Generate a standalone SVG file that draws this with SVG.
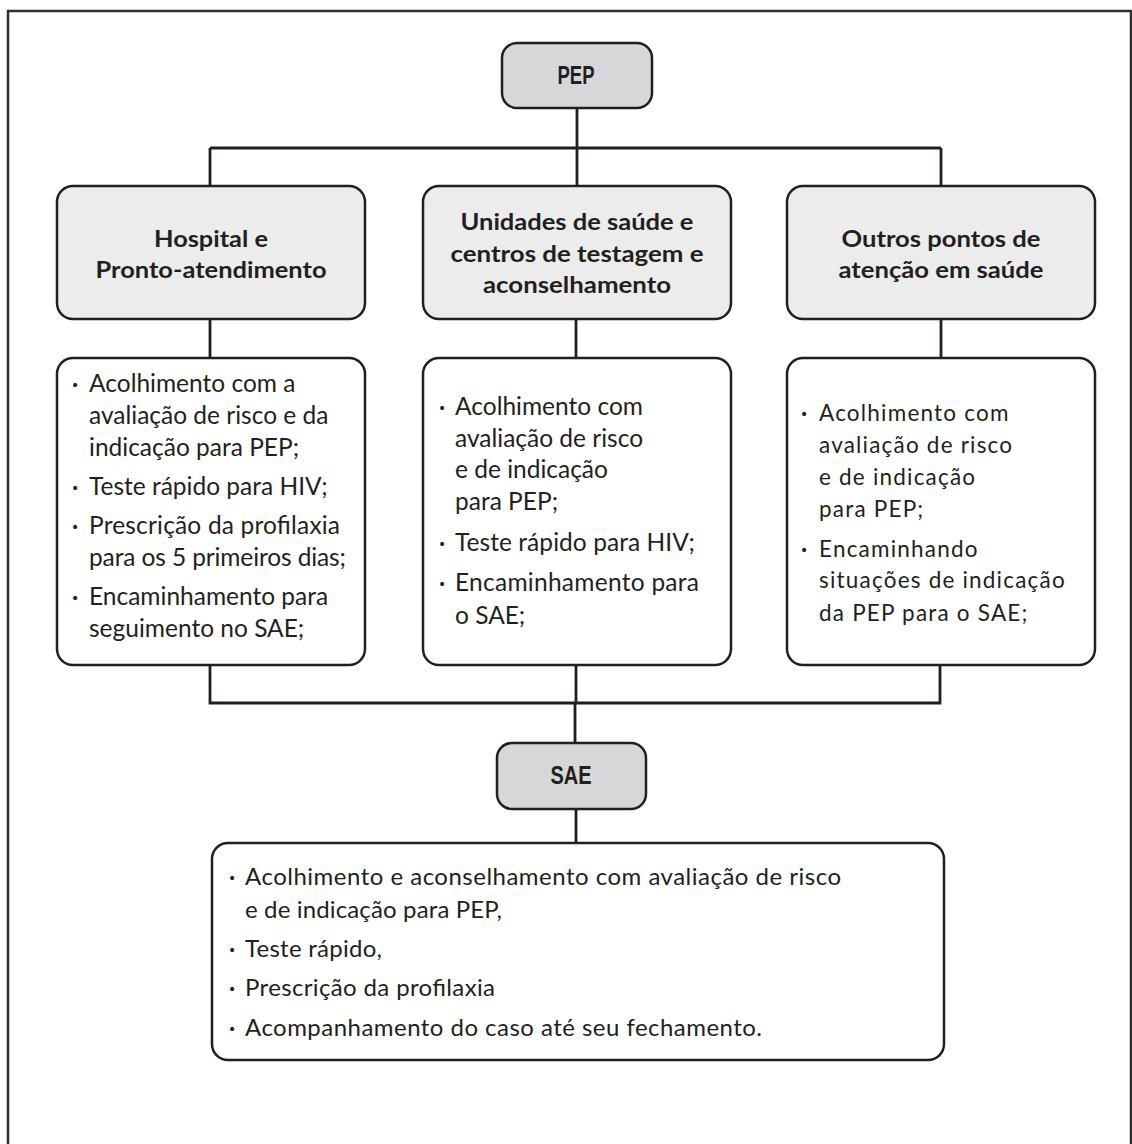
<svg xmlns="http://www.w3.org/2000/svg" width="1132" height="1144" viewBox="0 0 1132 1144">
<style>
.frame{fill:none;stroke:#2f2f2f;stroke-width:2.5}
.hdr{fill:#ececec;stroke:#231f20;stroke-width:2.5}
.key{fill:#d6d7d9;stroke:#231f20;stroke-width:2.5}
.body{fill:#ffffff;stroke:#231f20;stroke-width:2.5}
.con{fill:none;stroke:#231f20;stroke-width:2.8}
.t{font-family:Lato,"Open Sans","DejaVu Sans",sans-serif;font-size:24.5px;fill:#231f20}
.t3{font-family:Lato,"Open Sans","DejaVu Sans",sans-serif;font-size:22.5px;letter-spacing:1.2px;fill:#231f20}
.bt{font-family:Lato,"Open Sans","DejaVu Sans",sans-serif;font-size:24px;fill:#231f20}
.h{font-family:Lato,"Open Sans","DejaVu Sans",sans-serif;font-size:23px;font-weight:bold;fill:#231f20;text-anchor:middle}
.k{font-family:"Liberation Sans","DejaVu Sans",sans-serif;font-size:25px;font-weight:bold;fill:#231f20;text-anchor:middle}
.bu{font-family:"DejaVu Sans",sans-serif;font-size:14px;fill:#231f20}
</style>
<rect width="1132" height="1144" fill="#ffffff"/>
<path class="frame" d="M8,1150 V11 H1131 V1150"/>
<g id="connectors">
<path class="con" d="M577,108 V148 M210,148 H941 M210,148 V186 M577,148 V186 M941,148 V186"/>
<path class="con" d="M210,319 V358 M576,319 V358 M941,319 V358"/>
<path class="con" d="M210,665 V703 H940 V665 M576,665 V703 M575,703 V743 M576,809 V843"/>
</g>
<g id="pep">
<rect class="key" x="502" y="43" width="150" height="65" rx="15"/>
<text class="k" x="576" y="84" textLength="37" lengthAdjust="spacingAndGlyphs">PEP</text>
</g>
<g id="hospital">
<rect class="hdr" x="57" y="186" width="308" height="133" rx="16"/>
<text class="h" x="211" y="247" textLength="114" lengthAdjust="spacingAndGlyphs">Hospital e</text>
<text class="h" x="211" y="278" textLength="231" lengthAdjust="spacingAndGlyphs">Pronto-atendimento</text>
</g>
<g id="unidades">
<rect class="hdr" x="423" y="186" width="308" height="133" rx="16"/>
<text class="h" x="577" y="230" textLength="233" lengthAdjust="spacingAndGlyphs">Unidades de saúde e</text>
<text class="h" x="577" y="262" textLength="253" lengthAdjust="spacingAndGlyphs">centros de testagem e</text>
<text class="h" x="577" y="293" textLength="188" lengthAdjust="spacingAndGlyphs">aconselhamento</text>
</g>
<g id="outros">
<rect class="hdr" x="787" y="186" width="308" height="133" rx="16"/>
<text class="h" x="941" y="247" textLength="199" lengthAdjust="spacingAndGlyphs">Outros pontos de</text>
<text class="h" x="941" y="278" textLength="205" lengthAdjust="spacingAndGlyphs">atenção em saúde</text>
</g>
<g id="hospital-acoes">
<rect class="body" x="57" y="358" width="308" height="307" rx="16"/>
<text class="bu" x="71" y="390">•</text>
<text class="bu" x="71" y="493">•</text>
<text class="bu" x="71" y="532">•</text>
<text class="bu" x="71" y="603">•</text>
<text class="t" x="89" y="392">Acolhimento com a</text>
<text class="t" x="89" y="424">avaliação de risco e da</text>
<text class="t" x="89" y="456">indicação para PEP;</text>
<text class="t" x="89" y="495">Teste rápido para HIV;</text>
<text class="t" x="89" y="534" textLength="251">Prescrição da profilaxia</text>
<text class="t" x="89" y="566" textLength="257">para os 5 primeiros dias;</text>
<text class="t" x="89" y="605">Encaminhamento para</text>
<text class="t" x="89" y="637">seguimento no SAE;</text>
</g>
<g id="unidades-acoes">
<rect class="body" x="423" y="358" width="308" height="307" rx="16"/>
<text class="bu" x="438" y="413">•</text>
<text class="bu" x="438" y="549">•</text>
<text class="bu" x="438" y="589">•</text>
<text class="t" x="455" y="415">Acolhimento com</text>
<text class="t" x="455" y="447">avaliação de risco</text>
<text class="t" x="455" y="478">e de indicação</text>
<text class="t" x="455" y="510">para PEP;</text>
<text class="t" x="455" y="551" textLength="240">Teste rápido para HIV;</text>
<text class="t" x="455" y="591" textLength="244">Encaminhamento para</text>
<text class="t" x="455" y="624">o SAE;</text>
</g>
<g id="outros-acoes">
<rect class="body" x="787" y="358" width="308" height="307" rx="16"/>
<text class="bu" x="800" y="419">•</text>
<text class="bu" x="800" y="555">•</text>
<text class="t3" x="819" y="421">Acolhimento com</text>
<text class="t3" x="819" y="453">avaliação de risco</text>
<text class="t3" x="819" y="485">e de indicação</text>
<text class="t3" x="819" y="517">para PEP;</text>
<text class="t3" x="819" y="557">Encaminhando</text>
<text class="t3" x="819" y="588">situações de indicação</text>
<text class="t3" x="819" y="621">da PEP para o SAE;</text>
</g>
<g id="sae">
<rect class="key" x="497" y="743" width="149" height="66" rx="15"/>
<text class="k" x="571" y="784" textLength="41" lengthAdjust="spacingAndGlyphs">SAE</text>
</g>
<g id="sae-acoes">
<rect class="body" x="212" y="843" width="732" height="217" rx="16"/>
<text class="bu" x="228" y="883">•</text>
<text class="bu" x="228" y="955">•</text>
<text class="bu" x="228" y="994">•</text>
<text class="bu" x="228" y="1034">•</text>
<text class="bt" x="245" y="885" textLength="596">Acolhimento e aconselhamento com avaliação de risco</text>
<text class="bt" x="245" y="918" textLength="257">e de indicação para PEP,</text>
<text class="bt" x="245" y="957" textLength="137">Teste rápido,</text>
<text class="bt" x="245" y="996" textLength="250">Prescrição da profilaxia</text>
<text class="bt" x="245" y="1036" textLength="517">Acompanhamento do caso até seu fechamento.</text>
</g>
</svg>
